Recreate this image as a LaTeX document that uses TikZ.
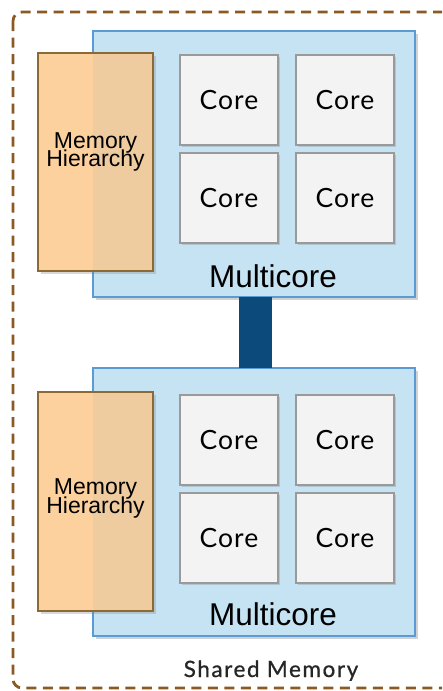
\documentclass[tikz,border=0pt]{standalone}
\usepackage{fontspec}
\setmainfont{Liberation Sans}
\newfontfamily\corefont[LetterSpace=4]{Lato}
\newfontfamily\sharedfont[LetterSpace=7,FakeBold=0.7]{Lato}
\usetikzlibrary{shadows}
\definecolor{mcfill}{HTML}{C5E3F3}
\definecolor{mcdraw}{HTML}{5A9BD5}
\definecolor{memfill}{HTML}{FCD19D}
\definecolor{memover}{HTML}{EFCCA0}
\definecolor{memdraw}{HTML}{8B6A35}
\definecolor{corefill}{HTML}{F3F3F3}
\definecolor{coredraw}{HTML}{9A9A9A}
\definecolor{busblue}{HTML}{0D4A7C}
\definecolor{dashbrown}{HTML}{8B5A24}
\tikzset{
  x=1pt, y=-1pt,
  mcbox/.style={draw=mcdraw, fill=mcfill, line width=2pt, anchor=north west,
    minimum width=322pt, minimum height=266pt, inner sep=0pt, outer sep=0pt,
    drop shadow={shadow xshift=2.5pt, shadow yshift=-2.5pt, opacity=0.35}},
  membox/.style={fill=memfill, anchor=north west, outer sep=0pt,
    minimum width=115pt, minimum height=218pt, inner sep=0pt,
    drop shadow={shadow xshift=3pt, shadow yshift=-3pt, opacity=0.3}},
  memover/.style={fill=memover},
  memborder/.style={draw=memdraw, line width=2pt},
  memtext/.style={align=center, inner sep=0pt,
    font=\fontsize{23}{16.5}\selectfont},
  corebox/.style={draw=coredraw, fill=corefill, line width=2pt, anchor=north west,
    minimum width=98pt, minimum height=90pt, inner sep=0pt, outer sep=0pt,
    font=\corefont\fontsize{26.5}{30}\selectfont,
    drop shadow={shadow xshift=2pt, shadow yshift=-2pt, opacity=0.3}},
  mclabel/.style={anchor=base, font=\fontsize{31.5}{36}\selectfont, inner sep=0pt},
  buslink/.style={draw=busblue, line width=33pt},
  sharedlabel/.style={anchor=base, font=\sharedfont\fontsize{22.5}{25}\selectfont,
    text=black!85, inner sep=0pt},
  outline/.style={draw=dashbrown, line width=2.8pt, dash pattern=on 10pt off 6.5pt,
    rounded corners=9pt},
}
\begin{document}
\begin{tikzpicture}
\useasboundingbox (0,0) rectangle (442,691);
\path[fill=white] (0,0) rectangle (442,691);
\begin{scope}
\clip (0,0) rectangle (442,691);
\draw[outline] (13,12) rectangle (470,688);
\end{scope}
% top multicore
\node[mcbox] (mc1) at (93,31) {};
\node[membox] (mem1) at (38,53) {};
\fill[memover] (mc1.west |- mem1.north) rectangle (mem1.south east);
\draw[memborder] (mem1.north west) rectangle (mem1.south east);
\node[memtext] (mt1) at ([yshift=10pt]mem1.center) {Memory\\[-4pt]Hierarchy};
\node[corebox] (c11) at (180,55) {Core};
\node[corebox] (c12) at (296,55) {Core};
\node[corebox] (c13) at (180,153) {Core};
\node[corebox] (c14) at (296,153) {Core};
\node[mclabel] (l1) at (273,287) {Multicore};
% bottom multicore
\node[mcbox, minimum height=268pt] (mc2) at (93,368) {};
\node[membox, minimum height=219pt] (mem2) at (38,392) {};
\fill[memover] (mc2.west |- mem2.north) rectangle (mem2.south east);
\draw[memborder] (mem2.north west) rectangle (mem2.south east);
\node[memtext] (mt2) at ([yshift=3pt]mem2.center) {Memory\\[-4pt]Hierarchy};
\node[corebox] (c21) at (180,395) {Core};
\node[corebox] (c22) at (296,395) {Core};
\node[corebox] (c23) at (180,493) {Core};
\node[corebox] (c24) at (296,493) {Core};
\node[mclabel] (l2) at (273,625) {Multicore};
% bus
\coordinate (busx) at (255.5,0);
\draw[buslink] (mc1.south -| busx) -- (mc2.north -| busx);
% label
\node[sharedlabel] (shared) at (271,677) {Shared Memory};
\end{tikzpicture}
\end{document}
